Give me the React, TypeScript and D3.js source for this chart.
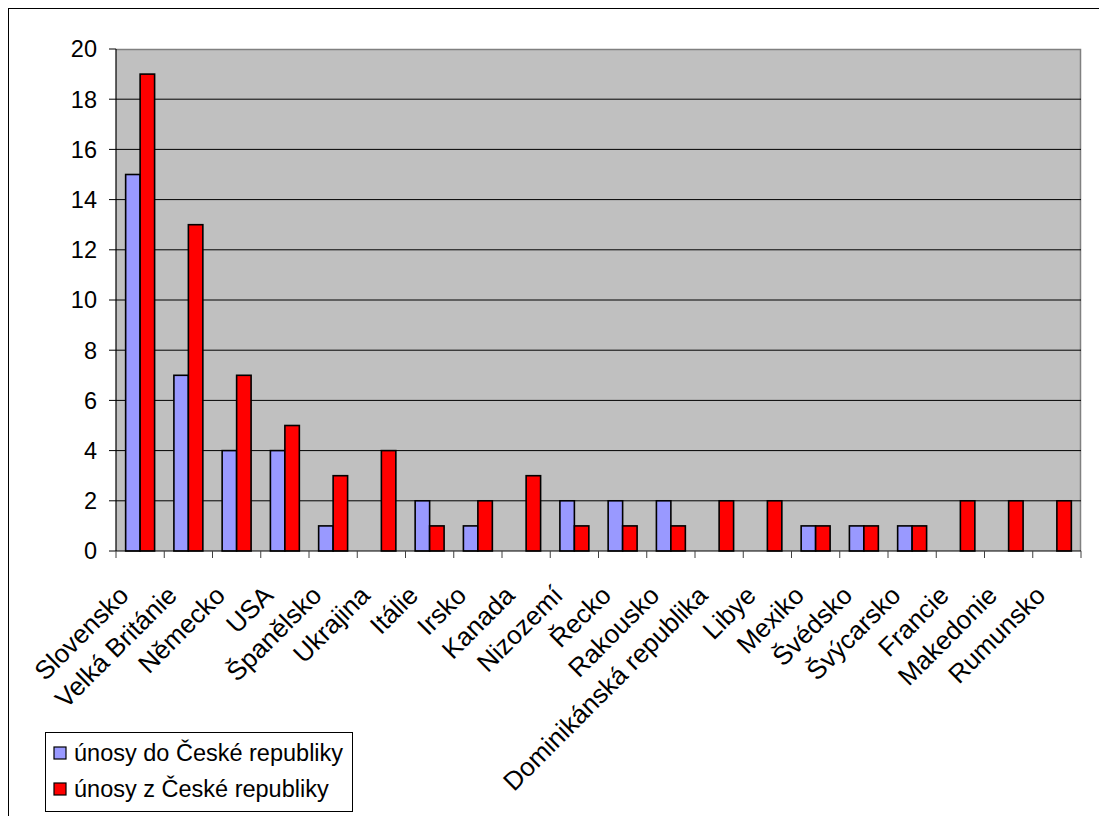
import React from "react";
import * as d3 from "d3";

const categories = [
  "Slovensko",
  "Velká Británie",
  "Německo",
  "USA",
  "Španělsko",
  "Ukrajina",
  "Itálie",
  "Irsko",
  "Kanada",
  "Nizozemí",
  "Řecko",
  "Rakousko",
  "Dominikánská republika",
  "Libye",
  "Mexiko",
  "Švédsko",
  "Švýcarsko",
  "Francie",
  "Makedonie",
  "Rumunsko",
];

const seriesNames = ["únosy do České republiky", "únosy z České republiky"];
const intoCz = [15, 7, 4, 4, 1, 0, 2, 1, 0, 2, 2, 2, 0, 0, 1, 1, 1, 0, 0, 0];
const fromCz = [19, 13, 7, 5, 3, 4, 1, 2, 3, 1, 1, 1, 2, 2, 1, 1, 1, 2, 2, 2];
const yTicks = [0, 2, 4, 6, 8, 10, 12, 14, 16, 18, 20];
const seriesColors = ["#9999FF", "#FF0000"];

const W = 1099;
const H = 808;
const plot = { left: 108, top: 41, right: 1073, bottom: 543 };
const FONT = "'Liberation Sans', Arial, sans-serif";

export default function App() {
  const x0 = d3
    .scaleBand<string>()
    .domain(categories)
    .range([plot.left, plot.right])
    .padding(0);
  const y = d3.scaleLinear().domain([0, 20]).range([plot.bottom, plot.top]);
  const bw = x0.bandwidth();
  const groupW = bw * 0.6;
  const x1 = d3
    .scaleBand<string>()
    .domain(seriesNames)
    .range([0, groupW])
    .padding(0);

  const series = [intoCz, fromCz];

  return (
    <svg
      width={W}
      height={H}
      style={{ display: "block", fontFamily: FONT }}
    >
      <rect x={0} y={0} width={W} height={H} fill="#fff" />
      {/* outer chart frame */}
      <rect x={0.5} y={0.5} width={W + 20} height={H + 20} fill="none" stroke="#000" strokeWidth={1} />

      {/* plot area */}
      <rect
        x={plot.left}
        y={plot.top}
        width={plot.right - plot.left}
        height={plot.bottom - plot.top}
        fill="#C0C0C0"
      />
      <path
        d={`M${plot.left},${plot.top + 0.5}H${plot.right - 0.5}V${plot.bottom}`}
        fill="none"
        stroke="#808080"
        strokeWidth={1.5}
      />
      {yTicks.slice(1, -1).map((t) => (
        <line
          key={t}
          x1={plot.left}
          x2={plot.right}
          y1={y(t)}
          y2={y(t)}
          stroke="#000"
          strokeWidth={1}
        />
      ))}

      {/* bars */}
      {categories.map((c, i) => {
        const gx = (x0(c) as number) + (bw - groupW) / 2;
        return series.map((vals, s) =>
          vals[i] > 0 ? (
            <rect
              key={c + s}
              x={gx + (x1(seriesNames[s]) as number)}
              y={y(vals[i])}
              width={x1.bandwidth()}
              height={y(0) - y(vals[i])}
              fill={seriesColors[s]}
              stroke="#000"
              strokeWidth={1.6}
            />
          ) : null
        );
      })}

      {/* y axis */}
      <line x1={plot.left} x2={plot.left} y1={plot.top} y2={plot.bottom} stroke="#000" strokeWidth={1.2} />
      {yTicks.map((t) => (
        <g key={t}>
          <line x1={plot.left - 7} x2={plot.left} y1={y(t)} y2={y(t)} stroke="#000" strokeWidth={1} />
          <text
            x={plot.left - 19}
            y={y(t)}
            dy="0.36em"
            textAnchor="end"
            fontSize={23.5}
            fill="#000"
          >
            {t}
          </text>
        </g>
      ))}

      {/* x axis */}
      <line x1={plot.left} x2={plot.right} y1={plot.bottom} y2={plot.bottom} stroke="#000" strokeWidth={1.2} />
      {d3.range(categories.length + 1).map((i) => {
        const xx = plot.left + i * bw;
        return (
          <line key={i} x1={xx} x2={xx} y1={plot.bottom} y2={plot.bottom + 7} stroke="#404040" strokeWidth={1} />
        );
      })}
      {categories.map((c) => {
        const cx = (x0(c) as number) + bw / 2;
        return (
          <text
            key={c}
            transform={`translate(${cx - 10},${plot.bottom + 46}) rotate(-45)`}
            textAnchor="end"
            fontSize={26}
            fill="#000"
          >
            {c}
          </text>
        );
      })}

      {/* legend */}
      <g transform="translate(37,724)">
        <rect x={0.5} y={0.5} width={307} height={79} fill="#fff" stroke="#000" strokeWidth={1} />
        {seriesNames.map((n, i) => (
          <g key={n} transform={`translate(0,${21 + i * 36})`}>
            <rect x={9} y={-6} width={12} height={12} fill={seriesColors[i]} stroke="#000" strokeWidth={1.2} />
            <text x={29} y={0} dy="0.36em" fontSize={23.5} fill="#000">
              {n}
            </text>
          </g>
        ))}
      </g>
    </svg>
  );
}
